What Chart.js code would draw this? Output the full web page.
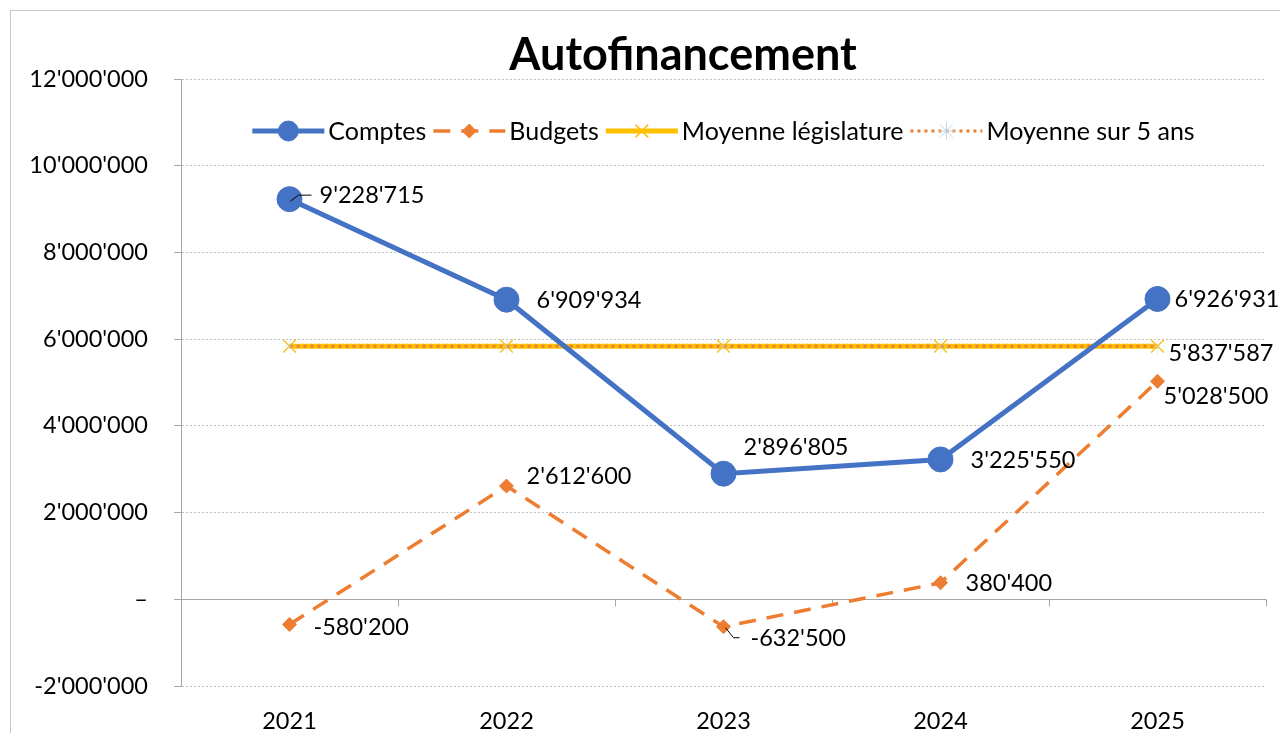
<!DOCTYPE html>
<html>
<head>
<meta charset="utf-8">
<script src="https://cdn.jsdelivr.net/npm/chart.js@4/dist/chart.umd.min.js"></script>
<style>
  html, body { margin: 0; padding: 0; background: #fff; overflow: hidden; }
  #frame { position: absolute; left: 10px; top: 10px; width: 1400px; height: 800px; border: 1px solid #c8c8c8; }
  canvas { position: absolute; left: 0; top: 0; }
</style>
</head>
<body>
<div id="frame"></div>
<canvas id="chart" width="1280" height="733"></canvas>
<script>
// Données
const years = ['2021', '2022', '2023', '2024', '2025'];
const comptes = [9228715, 6909934, 2896805, 3225550, 6926931];
const budgets = [-580200, 2612600, -632500, 380400, 5028500];
const moyenneLegislature = [5837587, 5837587, 5837587, 5837587, 5837587];
const moyenne5ans = [5837587, 5837587, 5837587, 5837587, 5837587];
const yTicks = [-2000000, 0, 2000000, 4000000, 6000000, 8000000, 10000000, 12000000];

const FONT = 'Lato';
const FS = 23.5;
const AXIS_GREY = '#a6a6a6';
Chart.defaults.font.family = FONT;
Chart.defaults.color = '#000';

// format suisse : 1'234'567
function fmt(v) {
  if (v < 0) return '-' + fmt(-v);
  return String(Math.round(v)).replace(/\B(?=(\d{3})+(?!\d))/g, "'");
}

// décalage des étiquettes par série (dx, dy depuis le point)
const LABEL_OFFSETS = [
  [[30, -4], [30, 1], [20, -26], [30, 1], [17, 0]],
  [[24, 3], [20, -10], [27, 12], [25, 1], [6, 15]],
  [null, null, null, null, [11, 7]],
  null
];
const LEGEND_RADIUS = [10, 7, 9, 9];

const excelDeco = {
  id: 'excelDeco',
  beforeDatasetsDraw(chart) {
    // axe horizontal sur la valeur 0, avec graduations entre les catégories
    const { ctx, chartArea: a, scales: { x, y } } = chart;
    const y0 = Math.round(y.getPixelForValue(0)) + 0.5;
    ctx.save();
    ctx.strokeStyle = AXIS_GREY;
    ctx.lineWidth = 1;
    ctx.beginPath();
    ctx.moveTo(a.left, y0);
    ctx.lineTo(a.right, y0);
    const n = years.length;
    const step = (a.right - a.left) / n;
    for (let i = 0; i <= n; i++) {
      const xx = Math.round(x.getPixelForValue(0) - step / 2 + i * step) + 0.5;
      ctx.moveTo(xx, y0);
      ctx.lineTo(xx, y0 + 7);
    }
    ctx.stroke();
    ctx.restore();
  },
  afterDatasetsDraw(chart) {
    const ctx = chart.ctx;
    ctx.save();
    ctx.font = FS + 'px ' + FONT;
    ctx.fillStyle = '#000';
    ctx.textAlign = 'left';
    ctx.textBaseline = 'middle';
    chart.data.datasets.forEach((ds, i) => {
      const offs = LABEL_OFFSETS[i];
      if (!offs) return;
      chart.getDatasetMeta(i).data.forEach((pt, j) => {
        const o = offs[j];
        if (!o) return;
        ctx.fillText(fmt(ds.data[j]), pt.x + o[0], pt.y + o[1]);
      });
    });
    // petites lignes de rappel
    ctx.strokeStyle = '#000';
    ctx.lineWidth = 1;
    const p0 = chart.getDatasetMeta(0).data[0];
    ctx.beginPath();
    ctx.moveTo(p0.x + 1, p0.y + 2);
    ctx.lineTo(p0.x + 9, p0.y - 4);
    ctx.lineTo(p0.x + 22, p0.y - 4);
    ctx.stroke();
    const p1 = chart.getDatasetMeta(1).data[2];
    ctx.beginPath();
    ctx.moveTo(p1.x + 2, p1.y + 1);
    ctx.lineTo(p1.x + 10, p1.y + 11);
    ctx.lineTo(p1.x + 16, p1.y + 11);
    ctx.stroke();
    ctx.restore();
  },
  afterDraw(chart) {
    const ctx = chart.ctx;
    ctx.save();
    // titre
    ctx.font = 'bold 45px ' + FONT;
    ctx.fillStyle = '#000';
    ctx.textAlign = 'center';
    ctx.textBaseline = 'middle';
    ctx.fillText('Autofinancement', 683, 55);

    // légende
    ctx.font = '25px ' + FONT;
    ctx.textAlign = 'left';
    const lineLen = 72, gapText = 4, gapItem = 7, ly = 131;
    const items = chart.data.datasets.map((ds, i) => ({ ds, i, w: ctx.measureText(ds.label).width }));
    let total = items.reduce((s, it) => s + lineLen + gapText + it.w, 0) + gapItem * (items.length - 1);
    const area = chart.chartArea;
    let x = (area.left + area.right) / 2 - total / 2;
    items.forEach(({ ds, i, w }) => {
      ctx.save();
      ctx.strokeStyle = ds.borderColor;
      ctx.lineWidth = ds.borderWidth;
      ctx.setLineDash(ds.borderDash || []);
      ctx.beginPath();
      ctx.moveTo(x, ly);
      ctx.lineTo(x + lineLen, ly);
      ctx.stroke();
      ctx.setLineDash([]);
      ctx.fillStyle = ds.pointBackgroundColor;
      ctx.strokeStyle = i === 3 ? '#BDD7EE' : ds.pointBorderColor;
      ctx.lineWidth = ds.pointBorderWidth;
      Chart.helpers.drawPoint(ctx, {
        pointStyle: ds.pointStyle, radius: LEGEND_RADIUS[i], rotation: 0, borderWidth: ds.pointBorderWidth
      }, x + lineLen / 2, ly);
      ctx.restore();
      ctx.fillStyle = '#000';
      ctx.fillText(ds.label, x + lineLen + gapText, ly + 1);
      x += lineLen + gapText + w + gapItem;
    });
    ctx.restore();
  }
};

new Chart(document.getElementById('chart'), {
  type: 'line',
  data: {
    labels: years,
    datasets: [
      {
        label: 'Comptes', data: comptes, order: 0,
        borderColor: '#4472C4', borderWidth: 5,
        pointStyle: 'circle', pointRadius: 12.5,
        pointBackgroundColor: '#4472C4', pointBorderColor: '#4472C4', pointBorderWidth: 1
      },
      {
        label: 'Budgets', data: budgets, order: 1,
        borderColor: '#ED7D31', borderWidth: 3.5, borderDash: [17, 11],
        pointStyle: 'rectRot', pointRadius: 7,
        pointBackgroundColor: '#ED7D31', pointBorderColor: '#ED7D31', pointBorderWidth: 1
      },
      {
        label: 'Moyenne législature', data: moyenneLegislature, order: 3,
        borderColor: '#FFC000', borderWidth: 5,
        pointStyle: 'crossRot', pointRadius: 9,
        pointBackgroundColor: '#FFC000', pointBorderColor: '#FFC000', pointBorderWidth: 1.5
      },
      {
        label: 'Moyenne sur 5 ans', data: moyenne5ans, order: 2,
        borderColor: '#ED7D31', borderWidth: 3, borderDash: [3, 4],
        pointStyle: 'star', pointRadius: 8,
        pointBackgroundColor: '#E6EFF8', pointBorderColor: 'rgba(189,215,238,0.35)', pointBorderWidth: 1
      }
    ]
  },
  options: {
    responsive: false,
    animation: false,
    devicePixelRatio: 1,
    layout: { padding: { top: 79, right: 14, bottom: 0, left: 0 } },
    plugins: { legend: { display: false }, title: { display: false }, tooltip: { enabled: false } },
    scales: {
      x: {
        position: 'bottom',
        offset: true,
        afterFit: s => { s.height = 47; },
        grid: { display: false, drawTicks: false },
        border: { display: false },
        ticks: { padding: 21, color: '#000', font: { size: FS } }
      },
      y: {
        min: -2000000,
        max: 12000000,
        afterFit: s => { s.width = 181; },
        afterBuildTicks: s => { s.ticks = yTicks.map(v => ({ value: v })); },
        ticks: { padding: 26, color: '#000', font: { size: FS }, callback: v => v === 0 ? '–' : fmt(v) },
        grid: { color: '#c0c0c0', lineWidth: 1, tickLength: 7, tickColor: AXIS_GREY },
        border: { color: AXIS_GREY, width: 1, dash: [2, 2] }
      }
    }
  },
  plugins: [excelDeco]
});
</script>
</body>
</html>
